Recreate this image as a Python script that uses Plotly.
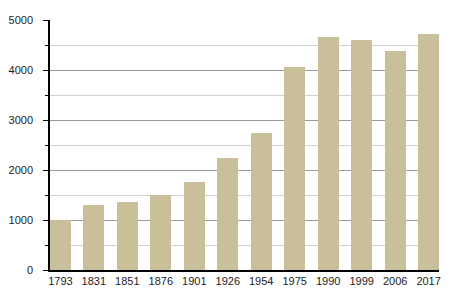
import plotly.graph_objects as go

years = ["1793", "1831", "1851", "1876", "1901", "1926", "1954", "1975", "1990", "1999", "2006", "2017"]
population = [1000, 1300, 1360, 1493, 1760, 2247, 2740, 4060, 4667, 4600, 4380, 4720]

fig = go.Figure(go.Bar(
    x=years, y=population,
    marker=dict(color="#c9c09b", line=dict(width=0)),
    width=0.625,
))

fig.update_layout(
    width=450, height=300,
    margin=dict(l=50, r=9, t=20, b=30),
    paper_bgcolor="white", plot_bgcolor="white",
    font=dict(family="Liberation Sans, Arial, sans-serif", size=11, color="#222"),
    showlegend=False,
    bargap=0,
)
fig.update_xaxes(
    type="category",
    range=[-0.31, 11.31],
    showline=True, linecolor="black", linewidth=1.5,
    ticks="", showgrid=False,
    tickfont=dict(size=11),
)
fig.update_yaxes(
    range=[0, 5000], dtick=1000, tick0=0,
    showline=True, linecolor="black", linewidth=1.5,
    ticks="outside", ticklen=5, tickcolor="black",
    gridcolor="#9a9a9a", gridwidth=1,
    zeroline=False,
    ticklabelstandoff=8,
    minor=dict(dtick=500, showgrid=True, gridcolor="#d0d0d0", gridwidth=1,
               ticks="outside", ticklen=3, tickcolor="black"),
    tickfont=dict(size=11),
)

fig.write_html("out.html")
